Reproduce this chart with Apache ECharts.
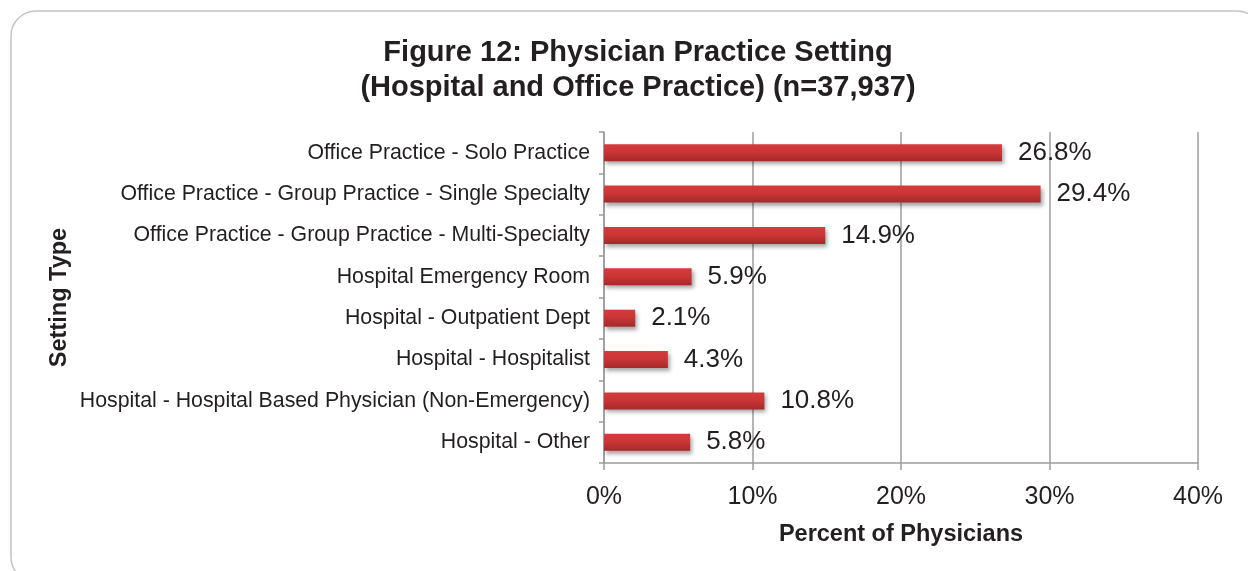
<!DOCTYPE html>
<html>
<head>
<meta charset="utf-8">
<style>
  html, body { margin: 0; padding: 0; background: #fff; }
  #chart { width: 1248px; height: 571px; }
</style>
<script src="https://cdn.jsdelivr.net/npm/echarts@6/dist/echarts.min.js"></script>
</head>
<body>
<div id="chart"></div>
<script>
const categories = [
    'Office Practice - Solo Practice',
    'Office Practice - Group Practice - Single Specialty',
    'Office Practice - Group Practice - Multi-Specialty',
    'Hospital Emergency Room',
    'Hospital - Outpatient Dept',
    'Hospital - Hospitalist',
    'Hospital - Hospital Based Physician (Non-Emergency)',
    'Hospital - Other'
];
const percentValues = [26.8, 29.4, 14.9, 5.9, 2.1, 4.3, 10.8, 5.8];
const xTicks = [0, 10, 20, 30, 40];

const fontFamily = '"Liberation Sans", Arial, sans-serif';
const myChart = echarts.init(document.getElementById('chart'));

const option = {
    animation: false,
    textStyle: { fontFamily: fontFamily },
    graphic: [{
        type: 'rect',
        shape: { x: 11, y: 11, width: 1251, height: 571, r: 25 },
        style: { fill: 'none', stroke: '#c4c4c4', lineWidth: 1.5 },
        silent: true
    }],
    title: {
        text: 'Figure 12: Physician Practice Setting\n(Hospital and Office Practice) (n=37,937)',
        left: 633,
        top: 30,
        textAlign: 'center',
        textStyle: {
            fontFamily: fontFamily,
            fontSize: 29,
            fontWeight: 'bold',
            color: '#231f20',
            lineHeight: 35
        }
    },
    grid: { left: 604, right: 50, top: 132, bottom: 108 },
    xAxis: {
        type: 'value',
        min: xTicks[0],
        max: xTicks[xTicks.length - 1],
        interval: 10,
        name: 'Percent of Physicians',
        nameLocation: 'middle',
        nameGap: 60,
        nameTextStyle: { fontFamily: fontFamily, fontSize: 23.5, fontWeight: 'bold', color: '#231f20' },
        axisLine: { show: true, lineStyle: { color: '#9c9c9c', width: 1.5 } },
        axisTick: { show: true, length: 7, lineStyle: { color: '#9c9c9c', width: 1.5 } },
        axisLabel: {
            margin: 22,
            fontSize: 25,
            color: '#231f20',
            formatter: v => v + '%'
        },
        splitLine: { show: true, lineStyle: { color: '#9c9c9c', width: 1.5 } }
    },
    yAxis: {
        type: 'category',
        data: categories,
        inverse: true,
        name: 'Setting Type',
        nameLocation: 'middle',
        nameGap: 532,
        nameRotate: 90,
        nameTextStyle: { fontFamily: fontFamily, fontSize: 23.5, fontWeight: 'bold', color: '#231f20' },
        axisLine: { show: true, lineStyle: { color: '#9c9c9c', width: 1.5 } },
        axisTick: { show: true, length: 5, lineStyle: { color: '#9c9c9c', width: 1.5 } },
        axisLabel: { margin: 14, fontSize: 21.3, color: '#231f20' }
    },
    series: [{
        type: 'bar',
        data: percentValues,
        barWidth: 17,
        itemStyle: {
            color: new echarts.graphic.LinearGradient(0, 0, 0, 1, [
                { offset: 0, color: '#d43c3c' },
                { offset: 0.5, color: '#c93535' },
                { offset: 1, color: '#a4292b' }
            ]),
            shadowColor: 'rgba(0, 0, 0, 0.35)',
            shadowBlur: 4,
            shadowOffsetX: 2,
            shadowOffsetY: 3
        },
        label: {
            show: true,
            position: 'right',
            distance: 16,
            fontSize: 26,
            color: '#231f20',
            formatter: p => p.value.toFixed(1) + '%'
        }
    }]
};

myChart.setOption(option);
</script>
</body>
</html>
